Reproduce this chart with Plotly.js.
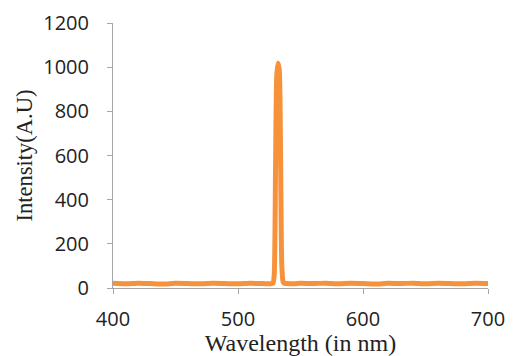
<!DOCTYPE html>
<html>
<head>
<meta charset="utf-8">
<script src="https://cdn.plot.ly/plotly-3.0.1.min.js"></script>
<style>html,body{margin:0;padding:0;background:#fff;}#chart{width:513px;height:356px;}</style>
</head>
<body>
<div id="chart"></div>
<script>
const wavelength = [400,410,420,430,440,450,460,470,480,490,500,510,520,525,527,528,529,530,531,532,533,534,535,536,537,539,545,550,560,570,580,590,600,610,620,630,640,650,660,670,680,690,700];
const intensity  = [ 21, 19, 22, 20, 18, 21, 20, 19, 21, 20, 19, 21, 20, 19, 20, 22, 60,520,960,1018,990,640,110, 30, 21, 20, 19, 21, 20, 22, 19, 21, 20, 18, 21, 20, 22, 19, 21, 20, 19, 21, 20];
const xTicks = [400,500,600,700];
const yTicks = [0,200,400,600,800,1000,1200];

Plotly.newPlot('chart', [{
  x: wavelength, y: intensity, type: 'scatter', mode: 'lines',
  line: {color: '#F7923A', width: 5, shape: 'spline', smoothing: 0.6},
  hoverinfo: 'skip'
}], {
  width: 513, height: 356,
  margin: {l: 113, r: 25, t: 23, b: 68},
  paper_bgcolor: '#fff', plot_bgcolor: '#fff',
  showlegend: false,
  xaxis: {
    range: [400, 700], tickvals: xTicks, ticktext: xTicks.map(String),
    showgrid: false, zeroline: false, showline: true, linecolor: '#a6a6a6', linewidth: 1,
    ticks: 'outside', ticklen: 5, tickcolor: '#a6a6a6', ticklabelstandoff: 8,
    tickfont: {family: 'Open Sans', size: 20, color: '#222'},
    title: {text: 'Wavelength (in nm)', font: {family: 'Liberation Serif', size: 24, color: '#222'}, standoff: 5}
  },
  yaxis: {
    range: [0, 1200], tickvals: yTicks, ticktext: yTicks.map(String),
    showgrid: false, zeroline: false, showline: true, linecolor: '#a6a6a6', linewidth: 1,
    ticks: 'outside', ticklen: 5, tickcolor: '#a6a6a6', ticklabelstandoff: 14,
    tickfont: {family: 'Open Sans', size: 20, color: '#222'},
    title: {text: 'Intensity(A.U)', font: {family: 'Liberation Serif', size: 22.5, color: '#222'}, standoff: 4}
  }
}, {displayModeBar: false, staticPlot: true});
</script>
</body>
</html>
